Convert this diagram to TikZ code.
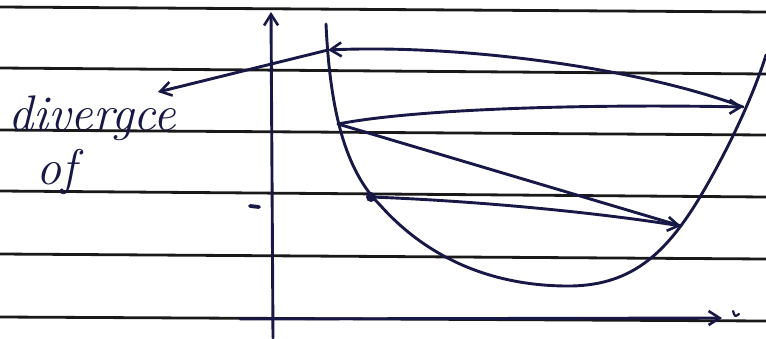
\documentclass[tikz,border=0pt]{standalone}
\usetikzlibrary{arrows.meta}
\definecolor{ink}{RGB}{24,24,70}
\definecolor{rule}{RGB}{25,25,25}
\begin{document}
\begin{tikzpicture}[x=1pt,y=-1pt,
  ruled/.style={draw=rule,line width=2.8pt},
  pen/.style={draw=ink,line width=2.9pt,line cap=round,line join=round},
  tipped/.style={pen,-{Straight Barb[length=11pt,width=14pt,line width=2.6pt]}},
  hand/.style={text=ink,font=\fontsize{50}{50}\selectfont\itshape,inner sep=0pt}]
\useasboundingbox (0,0) rectangle (766,338);
\fill[white] (0,0) rectangle (766,338);
% ruled lines
\draw[ruled] (0,7) -- (766,12);
\draw[ruled] (0,68) -- (766,74);
\draw[ruled] (0,130) -- (766,135);
\draw[ruled] (0,191) -- (766,197);
\draw[ruled] (0,254) -- (766,259);
\draw[ruled] (0,317) -- (766,321);
% axes
\coordinate (ybot) at (273,338);
\coordinate (ytop) at (271,12);
\draw[tipped] (ybot) -- (ytop);
\coordinate (xleft) at (240,319);
\coordinate (xright) at (722,318);
\draw[tipped] (xleft) -- (xright);
\draw[pen,line width=2.2pt] (733,311) .. controls (735,317) .. (739,314);
% curve
\draw[pen] (326,24) .. controls (330,110) and (345,170) .. (380,205)
  .. controls (420,250) and (480,285) .. (565,286)
  .. controls (630,287) and (665,255) .. (700,197)
  .. controls (725,155) and (752,100) .. (766,55);
% cobweb points
\coordinate (p0) at (371,197);
\coordinate (p1) at (681,226);
\coordinate (p2) at (338,124);
\coordinate (p3) at (743,107);
\coordinate (p4) at (328,50);
\coordinate (p5) at (158,92);
\fill[ink] (p0) circle (5pt);
\draw[tipped] (p0) .. controls (480,201) and (600,213) .. (p1);
\draw[pen] (p1) -- (p2);
\draw[tipped] (p2) .. controls (420,108) and (600,104) .. (p3);
\draw[tipped] (p3) .. controls (640,68) and (460,44) .. (p4);
\draw[tipped] (p4) -- (p5);
% tick mark near axis
\draw[pen,line width=3.8pt] (250,206) -- (259,207);
% texts
\node[hand,anchor=base west] (t1) at (8,130) {divergce};
\node[hand,anchor=base west] (t2) at (36,184) {of};
\end{tikzpicture}
\end{document}
